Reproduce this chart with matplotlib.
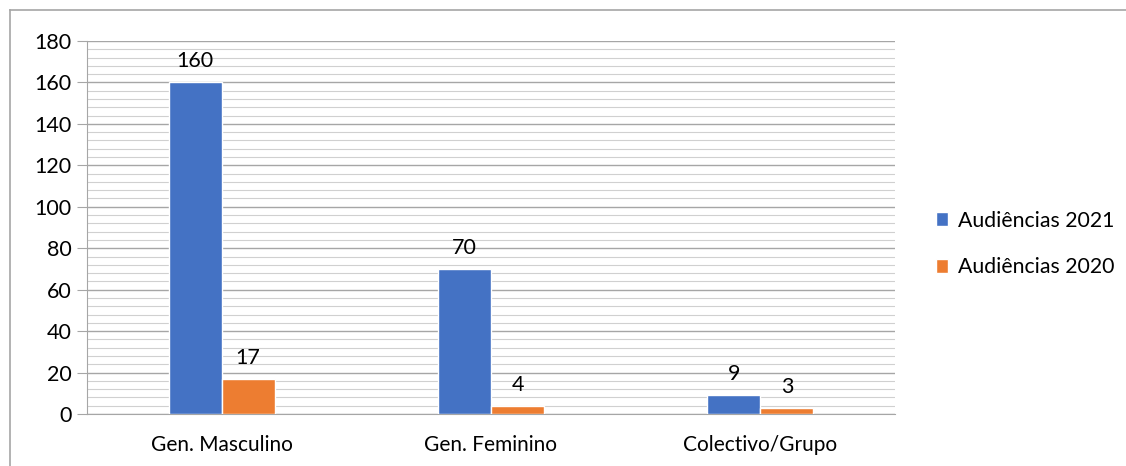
import numpy as np
import matplotlib.pyplot as plt
from matplotlib.lines import Line2D
from matplotlib.ticker import MultipleLocator

categories = ['Gen. Masculino', 'Gen. Feminino', 'Colectivo/Grupo']
aud_2021 = [160, 70, 9]
aud_2020 = [17, 4, 3]
series_names = ['Audiências 2021', 'Audiências 2020']

plt.rcParams['font.family'] = ['Lato', 'DejaVu Sans']

fig = plt.figure(figsize=(11.26, 4.66), dpi=100)
W, H = 1126, 466
ax = fig.add_axes([87 / W, 1 - 414 / H, (895 - 87) / W, (414 - 41) / H])

x = np.arange(len(categories))
w = 0.197
b1 = ax.bar(x - w / 2, aud_2021, w, color='#4472C4', edgecolor='white', linewidth=1,
            label=series_names[0], zorder=3)
b2 = ax.bar(x + w / 2, aud_2020, w, color='#ED7D31', edgecolor='white', linewidth=1,
            label=series_names[1], zorder=3)
for bars in (b1, b2):
    ax.bar_label(bars, padding=8, fontsize=15.5, color='black')

ax.set_xlim(-0.5, 2.5)
ax.set_ylim(0, 180)
ax.yaxis.set_major_locator(MultipleLocator(20))
ax.yaxis.set_minor_locator(MultipleLocator(4))
ax.grid(axis='y', which='major', color='#A6A6A6', linewidth=1.0, zorder=0)
ax.grid(axis='y', which='minor', color='#D0D0D0', linewidth=0.8, zorder=0)
ax.set_xticks(x)
ax.set_xticklabels(categories, fontsize=15)
ax.tick_params(axis='x', length=0, pad=15)
ax.tick_params(axis='y', which='major', length=7, color='#A6A6A6', labelsize=15.5, pad=4)
ax.tick_params(axis='y', which='minor', length=0)
for s in ['top', 'right']:
    ax.spines[s].set_visible(False)
ax.spines['left'].set_color('#A6A6A6')
ax.spines['bottom'].set_color('#A6A6A6')

leg = fig.legend(handles=[b1, b2], loc='center left', bbox_to_anchor=(925 / W, 1 - 244 / H),
                 frameon=False, fontsize=15.3, handlelength=0.6, handleheight=0.6,
                 handletextpad=0.45, labelspacing=1.25, borderpad=0)

# chart-area frame (top and left edges visible)
fig.add_artist(Line2D([10 / W, 1], [1 - 10 / H, 1 - 10 / H], transform=fig.transFigure,
                      color='#A6A6A6', linewidth=1.2))
fig.add_artist(Line2D([10 / W, 10 / W], [0, 1 - 10 / H], transform=fig.transFigure,
                      color='#A6A6A6', linewidth=1.2))

fig.savefig('out.png', dpi=100)
